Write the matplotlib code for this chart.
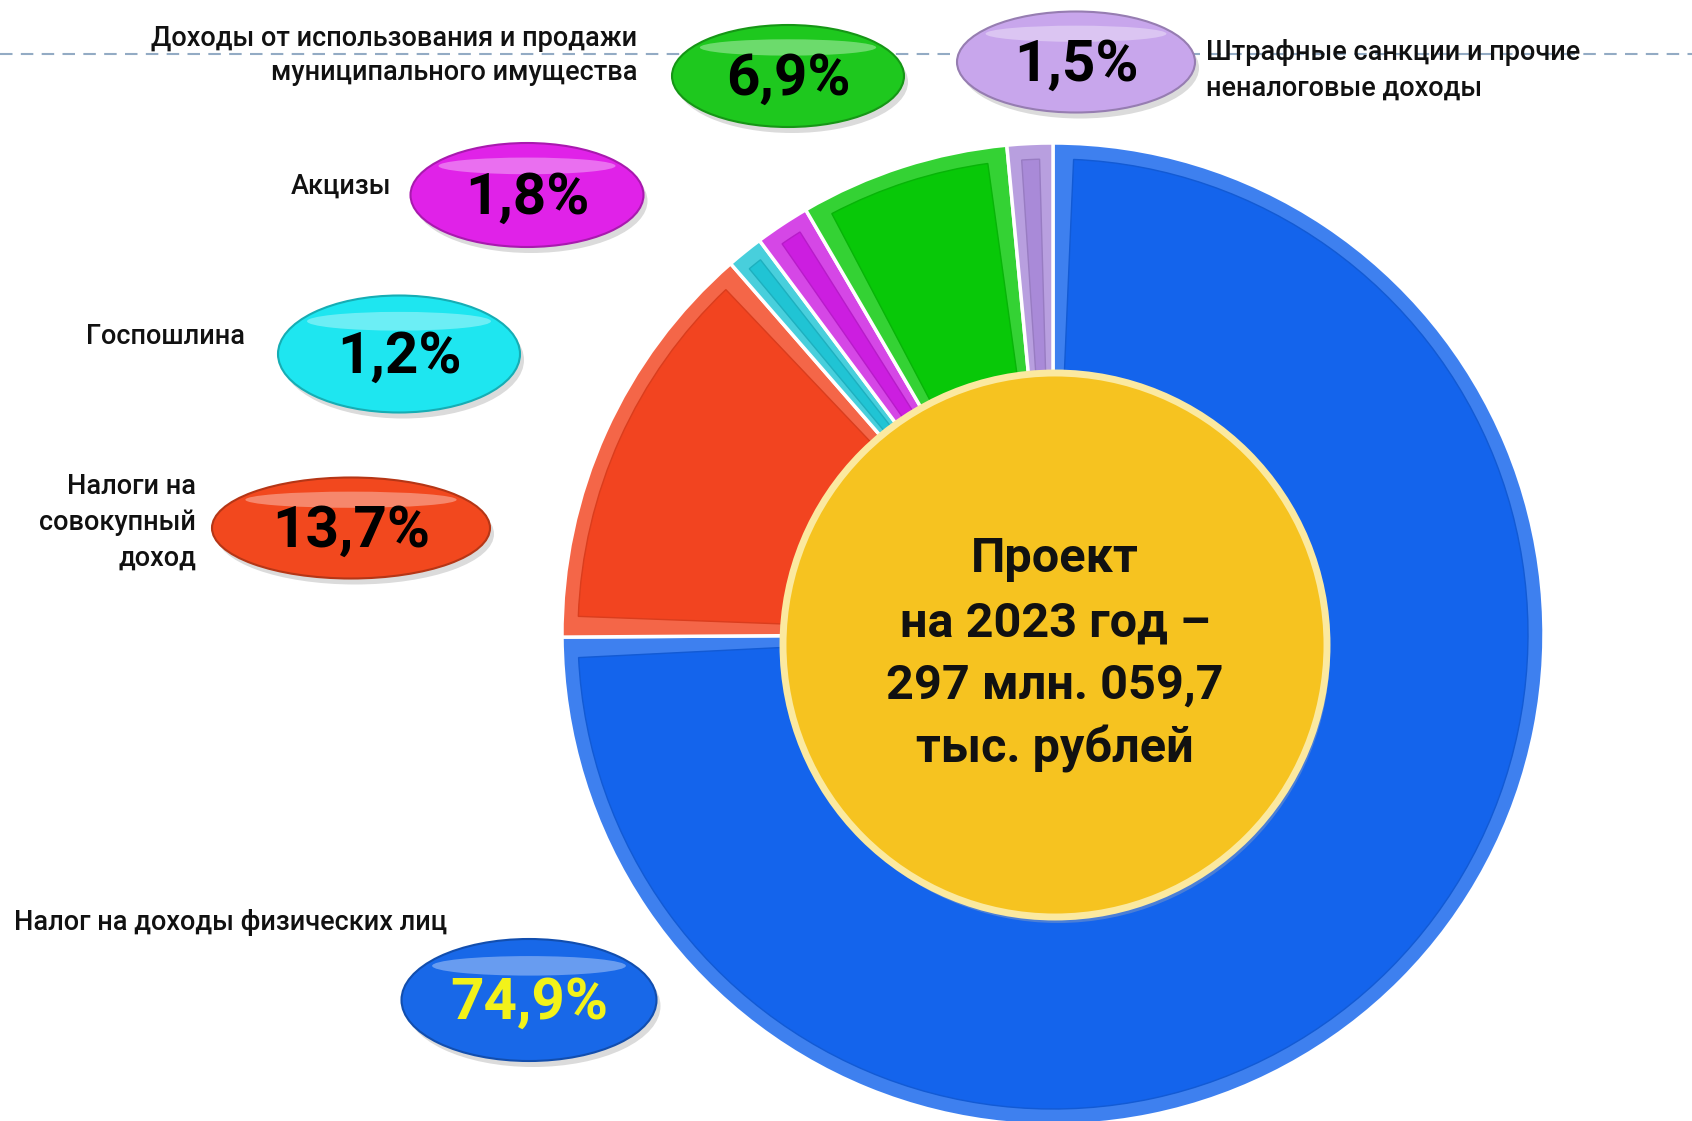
import matplotlib.pyplot as plt
from matplotlib.patches import Ellipse, Circle, Wedge
from matplotlib.colors import to_rgb
import numpy as np

# data
categories = ['Налог на доходы физических лиц', 'Налоги на совокупный доход', 'Госпошлина',
              'Акцизы', 'Доходы от использования и продажи муниципального имущества',
              'Штрафные санкции и прочие неналоговые доходы']
shares = [74.9, 13.7, 1.2, 1.8, 6.9, 1.5]
label_lines = [['Налог на доходы физических лиц'],
               ['Налоги на', 'совокупный', 'доход'],
               ['Госпошлина'],
               ['Акцизы'],
               ['Доходы от использования и продажи', 'муниципального имущества'],
               ['Штрафные санкции и прочие', 'неналоговые доходы']]
center_lines = ['Проект', 'на 2023 год –', '297 млн. 059,7', 'тыс. рублей']

wedge_colors = ['#1464ec', '#f24420', '#20c4d4', '#cc1ee0', '#08c808', '#a98ad8']
bubble_colors = ['#1868e8', '#f2481e', '#1ee6f0', '#e022e8', '#1ec81e', '#c8a6ec']
pct_colors = ['#f2f21a', 'black', 'black', 'black', 'black', 'black']

W, H = 1692, 1121
def Y(y):
    return H - y

def mix(c, other, t):
    a = np.array(to_rgb(c)); b = np.array(to_rgb(other))
    return tuple(a * (1 - t) + b * t)

# layout in pixels (from top-left)
bubble_xy = [(529, 1000), (351, 528), (399, 354), (527, 195), (788, 76), (1076, 62)]
bubble_wh = [(255, 122), (278, 101), (242, 117), (233, 104), (232, 102), (238, 101)]
label_pos = [(14, 'left', [923]), (196, 'right', [487, 523, 558]), (245, 'right', [337]),
             (391, 'right', [186]), (637, 'right', [38, 73]), (1206, 'left', [53, 88])]

label_font = ['Roboto', 'DejaVu Sans']
pct_font = ['Roboto', 'DejaVu Sans']

fig = plt.figure(figsize=(16.92, 11.21), dpi=100)
ax = fig.add_axes([0, 0, 1, 1])

cx, cy, R, ring = 1053, 634, 491, 245

# dashed line at the top
ax.plot([0, W], [Y(54), Y(54)], color='#93abc4', lw=1.5, dashes=(6, 4), zorder=1)

wedges, _ = ax.pie(shares, colors=wedge_colors, startangle=90, counterclock=False,
                   radius=R, center=(cx, Y(cy)),
                   wedgeprops=dict(width=ring, edgecolor='white', linewidth=2.5))
for w, col in zip(wedges, wedge_colors):
    w.set_facecolor(mix(col, 'white', 0.18))
    w.set_zorder(2)
    b = 16
    span = w.theta2 - w.theta1
    db = min(np.degrees(b / (R - ring / 2)), 0.3 * span)
    face = Wedge((cx, Y(cy)), R - b, w.theta1 + db, w.theta2 - db, width=ring - 2 * b,
                 facecolor=col, edgecolor=mix(col, 'black', 0.1), lw=1, zorder=3)
    ax.add_patch(face)

# center disk
ax.add_patch(Circle((1058, Y(651)), 272, facecolor='#b0b0b0', alpha=0.35, lw=0, zorder=4))
ax.add_patch(Circle((1055, Y(645)), 272, facecolor='#f6c320', edgecolor='#fbe9a0', lw=5, zorder=5))
for txt, yy in zip(center_lines, [559, 623, 686, 749]):
    ax.text(1055, Y(yy), txt, ha='center', va='center', fontsize=35, fontweight='bold',
            family=['Roboto', 'DejaVu Sans'], color='#111111', zorder=6)

# bubbles with percentages
for (bx, by), (bw, bh), col, tc, v in zip(bubble_xy, bubble_wh, bubble_colors, pct_colors, shares):
    ax.add_patch(Ellipse((bx + 4, Y(by) - 6), bw, bh, facecolor='#888888', alpha=0.3, lw=0, zorder=6))
    ax.add_patch(Ellipse((bx, Y(by)), bw, bh, facecolor=col, edgecolor=mix(col, 'black', 0.25),
                         lw=1.5, zorder=7))
    ax.add_patch(Ellipse((bx, Y(by) + 0.28 * bh), 0.76 * bw, 0.16 * bh, facecolor='white',
                         alpha=0.35, lw=0, zorder=8))
    pct = f'{v:.1f}'.replace('.', ',') + '%'
    ax.text(bx, Y(by) - 3, pct, ha='center', va='center', fontsize=42, fontweight='bold',
            family=pct_font, color=tc, zorder=9)

# category labels
for (lx, ha, ys), lines in zip(label_pos, label_lines):
    for txt, yy in zip(lines, ys):
        ax.text(lx, Y(yy), txt, ha=ha, va='center', fontsize=19.5, fontweight='medium',
                family=label_font, color='#111111', zorder=9)

ax.set_xlim(0, W)
ax.set_ylim(0, H)
ax.set_aspect('equal')
ax.axis('off')
fig.savefig('out.png', dpi=100)
